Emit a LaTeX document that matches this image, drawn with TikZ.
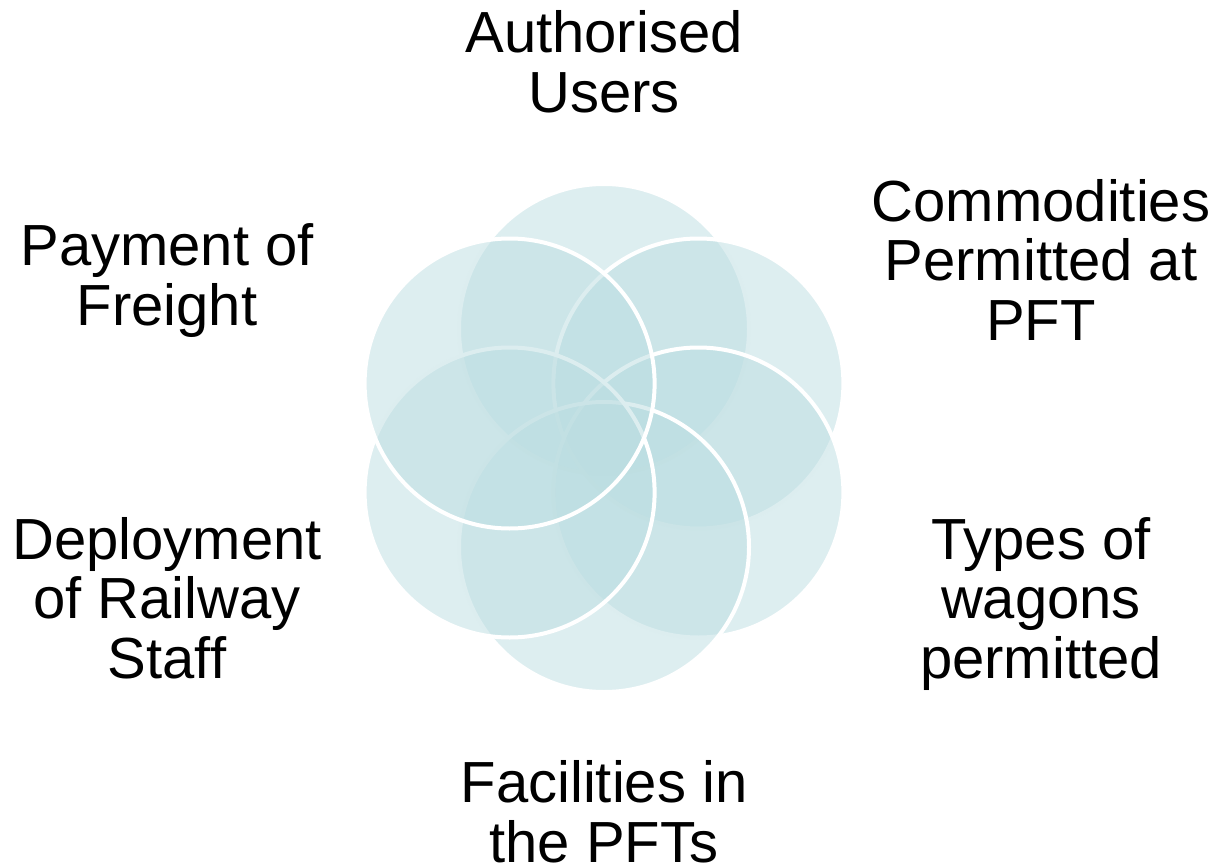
\documentclass[tikz,border=0pt]{standalone}
\usepackage{fontspec}
\usetikzlibrary{calc}
\setmainfont{Liberation Sans}
\definecolor{petalfill}{RGB}{187,221,225}

\begin{document}
\begin{tikzpicture}
[
x=1pt, y=-1pt,
petal/.style={circle, draw=white, line width=4pt, fill=petalfill, fill opacity=0.5, inner sep=0pt, minimum size=290pt},
label/.style={align=center, anchor=base, inner sep=0pt, font=\fontsize{58}{59.5}\selectfont}
]
\useasboundingbox (0,0) rectangle (1219,867);

%Circles
\coordinate (mid) at (604,438);
\node[petal] (ptop)   at ($(mid)+(0,-109)$)    {};
\node[petal] (pupr)   at ($(mid)+(94.4,-54.5)$) {};
\node[petal] (plowr)  at ($(mid)+(94.4,54.5)$)  {};
\node[petal] (pbot)   at ($(mid)+(0,109)$)     {};
\node[petal] (plowl)  at ($(mid)+(-94.4,54.5)$) {};
\node[petal] (pupl)   at ($(mid)+(-94.4,-54.5)$) {};

%Labels (base = last line)
\node[label] (users)   at (604,112)  {Authorised\\Users};
\node[label] (commod)  at (1041,340) {Commodities\\Permitted at\\PFT};
\node[label] (wagons)  at (1041,678) {Types of\\wagons\\permitted};
\node[label] (facil)   at (604,862)  {Facilities in\\the PFTs};
\node[label] (staff)   at (167,678)  {Deployment\\of Railway\\Staff};
\node[label] (freight) at (167,325)  {Payment of\\Freight};

\end{tikzpicture}
\end{document}
